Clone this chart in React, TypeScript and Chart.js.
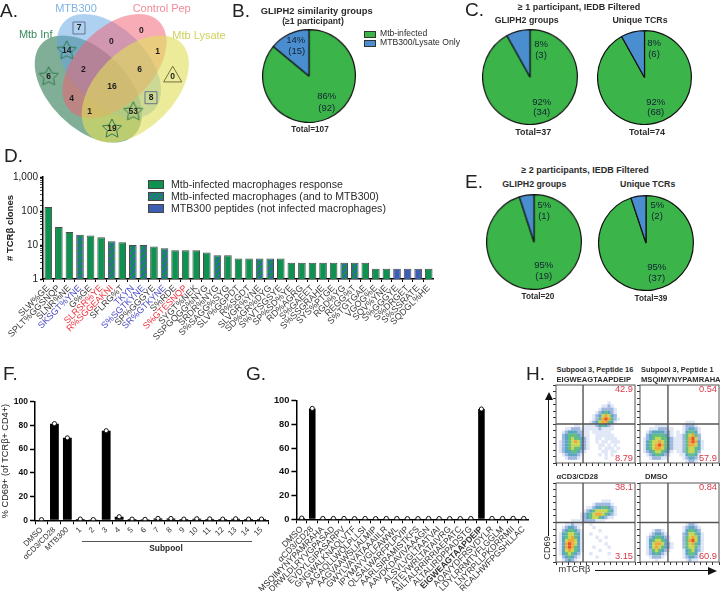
import React, { useEffect, useRef } from "react";
import { Chart, registerables } from "chart.js";

Chart.register(...registerables);

// ---------- data ----------
const vennSets = ["Mtb Inf", "MTB300", "Control Pep", "Mtb Lysate"];
const vennCounts = [7, 14, 0, 0, 1, 6, 2, 6, 0, 16, 8, 4, 1, 53, 19];
const vennMarks = ["rect", "star", "", "", "", "star", "", "", "triangle", "", "rect", "", "", "star", "star"];

const pieLabels = ["Mtb-infected", "MTB300/Lysate Only"];
const pieB = [92, 15];
const pieC1 = [34, 3];
const pieC2 = [68, 6];
const pieE1 = [19, 1];
const pieE2 = [37, 2];

const gliphLabels = [
  "SLW%GE", "SPLT%GGSNQP", "SLNR%NE", "SKSGT%YNE", "G%GE", "SLRSR%YE", "R%SGGEAKNI", "SFLRG%T", "TKYN", "S%SGTKYNE",
  "SP%GGGYE", "SR%GTKYNE", "S%RDE", "S%GTESNQP", "SYGT%NEK", "SSPGQGG%NYG", "SRDR%NYG", "S%SAGG%SYG", "SLV%GGPDT",
  "R%SGDT", "SLVGR%YNE", "SD%GR%DYG", "S%VTSGSYE", "SP%SD%YE", "RD%AGRG", "S%GAEET", "S%SSGRAHE", "SYS%PTGE", "RGD%YG",
  "REGG%T", "S%TGTGAE", "VGOG%E", "SQV%YNE", "S%GGGYE", "S%DRGET", "S%SSRATE", "SQDGL%HE",
];
const gliphClones = [
  131, 34, 24, 20, 19, 17, 13, 12, 10, 10, 9, 8, 7, 7, 7, 6, 5, 5, 4,
  4, 4, 4, 4, 3, 3, 3, 3, 3, 3, 3, 3, 2, 2, 2, 2, 2, 2,
];
// g = infected only, h = infected and MTB300, b = MTB300 only
const gliphKindList = [
  "g", "g", "g", "h", "g", "g", "h", "g", "h", "h", "g", "h", "g", "g", "g", "g", "h", "g", "g",
  "g", "h", "h", "g", "g", "g", "g", "g", "g", "h", "h", "g", "g", "g", "b", "b", "b", "g",
];
const gliphLabelInk = [
  "k", "k", "k", "b", "k", "r", "r", "k", "b", "b", "k", "b", "k", "r", "k", "k", "k", "k", "k",
  "k", "k", "k", "k", "k", "k", "k", "k", "k", "k", "k", "k", "k", "k", "k", "k", "k", "k",
];

const subpoolLabels = ["DMSO", "αCD3/CD28", "MTB300", "1", "2", "3", "4", "5", "6", "7", "8", "9", "10", "11", "12", "13", "14", "15"];
const subpoolValues = [0.5, 81.5, 69.5, 1, 0.6, 75.5, 3, 1, 0.8, 1.6, 1.5, 1, 1.3, 1.2, 1, 1.3, 1, 1];

const peptideLabels = [
  "DMSO", "αCD3/CD28", "MSQIMYNYPAMRAHA", "DRWLDLRYVGPASAD", "EVDYLGIPASARPV", "GNGWALKNAQLVTF", "AAGAQLLWQLPLLSI",
  "AAGVAAWSLIALMIP", "GWYLVAYATAAAIILR", "IPYMAYVGLFAWWL", "QLSALWARFPLPVIP", "AARLSIRAMISTKFS", "AAVDKDAVIVAAAGN",
  "ALSVLVGLTAATVAI", "ATEYWRLTATAIVRG", "AILTALRRIRRIAEPATC", "ALTALIRDPPADSTG", "EIGWEAGTAAPDEIP", "AQAVYDFRSVDYLR",
  "LDYLRRMTVFLGGLM", "LNYRPLLPKDRRMII", "RCALHWFPGSHLLAC",
];
const peptideValues = [1, 93.5, 0.7, 0.7, 0.7, 0.6, 0.7, 0.6, 0.7, 0.7, 0.6, 0.6, 0.7, 0.6, 0.6, 0.6, 0.7, 93, 0.7, 0.7, 0.8, 0.7];

const flowTop = [
  "", "", "", "", "",
  "00000000000000000100000000",
  "00000000000000011210000000",
  "00000000000000122221000000",
  "00000000000001234321000000",
  "00000000000012356532000000",
  "00000000000012467642100000",
  "00000000000123566431000000",
  "00000011011112343210000000",
  "00011222111111211110000000",
  "00123332211011111100000000",
  "00234443211001111110000000",
  "00234544321001101111000000",
  "01234565321001011011100000",
  "01234555321000110101000000",
  "01234544321000101110100000",
  "01233443210000011011000000",
  "00123332100000101010000000",
  "00012221000000001000000000",
  "",
];
const flowPeptide1 = [
  "", "", "", "", "", "", "", "", "", "", "",
  "00000000000000011100000000",
  "00000111100000122210000000",
  "00011122211000123321000000",
  "00123333221010134431000000",
  "00234444321011245642000000",
  "01234554432111246752000000",
  "01345565432111246763100000",
  "01345676432111246653100000",
  "01345665432111245543100000",
  "01234554321011245542000000",
  "00123443210001134431000000",
  "00012221100000123321000000",
  "00000000000000012210000000",
];
const flowCd3 = [
  "", "", "", "", "",
  "00000000000000011100000000",
  "00000000000012222210000000",
  "00000000001123344321000000",
  "00000000012345555431000000",
  "00000000123456654321000000",
  "00000000123455432110000000",
  "00000111122221110000000000",
  "00011211100100000000000000",
  "00123321000010000000000000",
  "00234432100000100000000000",
  "01345543100100000000000000",
  "01345643100001001000000000",
  "01356653100000100000000000",
  "01367653100000001000000000",
  "01367643100010000100000000",
  "01356543100000100000000000",
  "01345432000100000100000000",
  "00234321000001000000000000",
  "00123210000000000000000000",
];
const flowDmso = [
  "", "", "", "", "", "", "", "", "", "", "", "",
  "00000000000000012210000000",
  "00000000000000123321000000",
  "00001221000000134432000000",
  "00012332100000235543100000",
  "00123443210000245653100000",
  "00134554310000246753100000",
  "00135665321000245643100000",
  "00135654321000245542100000",
  "00124543210000134532100000",
  "00123432100000134431000000",
  "00012221000000123321000000",
  "00000100000000012110000000",
];
const flowGateTop = [8.9, 12];
const flowGateP1 = [9.2, 12];
const flowGateCd3 = [8.9, 12];
const flowGateDmso = [9.2, 12];

// ---------- styles ----------
const FONT = "'Liberation Sans', Arial, sans-serif";
const GREEN = "#0f9250";
const BLUE = "#3d5fb3";
const PIE_GREEN = "#3bb54a";
const PIE_BLUE = "#4b8ed0";
const INK = "#2b2b2b";
const RED_TEXT = "#d8394a";
const flowColors = ["", "#dfe6f5", "#9fb6e0", "#5aa6c0", "#62bd82", "#c8d650", "#f0a63a", "#e8502a"];

const pinW = (w: number) => (s: any) => {
  s.width = w;
  s.paddingLeft = s.paddingRight = s.paddingTop = s.paddingBottom = 0;
};
const pinH = (h: number) => (s: any) => {
  s.height = h;
  s.paddingLeft = s.paddingRight = s.paddingTop = s.paddingBottom = 0;
};

function hatch(): any {
  const c = document.createElement("canvas");
  c.width = 6;
  c.height = 6;
  const g = c.getContext("2d")!;
  g.fillStyle = GREEN;
  g.fillRect(0, 0, 6, 6);
  g.strokeStyle = BLUE;
  g.lineWidth = 1.7;
  g.beginPath();
  for (let i = -6; i <= 12; i += 6) {
    g.moveTo(i, 6);
    g.lineTo(i + 6, 0);
  }
  g.stroke();
  return g.createPattern(c, "repeat");
}

function starImage(size: number) {
  const c = document.createElement("canvas");
  c.width = c.height = size;
  const g = c.getContext("2d")!;
  const m = size / 2;
  g.beginPath();
  for (let i = 0; i < 10; i++) {
    const r = i % 2 ? m * 0.45 : m - 1;
    const a = -Math.PI / 2 + (i * Math.PI) / 5;
    const px = m + r * Math.cos(a);
    const py = m + r * Math.sin(a);
    if (i) g.lineTo(px, py);
    else g.moveTo(px, py);
  }
  g.closePath();
  g.strokeStyle = "#2f7a4c";
  g.lineWidth = 1;
  g.stroke();
  return c;
}

// ---------- layouts ----------
const spots = [
  [79, 28], [66.7, 50.7], [111.3, 41.7], [141.3, 31], [157.7, 52], [48.7, 76.7], [83.3, 69.3], [139.7, 69.3],
  [172.7, 76.7], [112, 87], [151, 97.7], [71.7, 98.3], [89.7, 111.7], [133.3, 111.7], [112, 129],
];
const ellipses = [
  { cx: 88.3, cy: 89, a: 65, b: 39, rot: 45, fill: "rgba(52,125,85,0.62)" },
  { cx: 109, cy: 66, a: 63, b: 38, rot: 45, fill: "rgba(100,165,228,0.52)" },
  { cx: 114.5, cy: 66, a: 63, b: 38, rot: -45, fill: "rgba(242,95,115,0.52)" },
  { cx: 135.3, cy: 89, a: 65, b: 39, rot: -45, fill: "rgba(222,222,90,0.62)" },
];

const vennPlugin = {
  id: "vennShapes",
  beforeDatasetsDraw(chart: any) {
    const { ctx, scales } = chart;
    ctx.save();
    ellipses.forEach((e) => {
      ctx.beginPath();
      ctx.ellipse(scales.x.getPixelForValue(e.cx), scales.y.getPixelForValue(e.cy), e.a, e.b, (e.rot * Math.PI) / 180, 0, Math.PI * 2);
      ctx.fillStyle = e.fill;
      ctx.fill();
    });
    ctx.restore();
  },
  afterDatasetsDraw(chart: any) {
    const { ctx } = chart;
    const meta = chart.getDatasetMeta(0);
    ctx.save();
    ctx.font = `bold 8.5px ${FONT}`;
    ctx.fillStyle = "#1c1c1c";
    ctx.textAlign = "center";
    ctx.textBaseline = "middle";
    meta.data.forEach((p: any, i: number) => ctx.fillText(String(vennCounts[i]), p.x, p.y));
    ctx.restore();
  },
};

const framePlugin = {
  id: "panelFrame",
  afterDraw(chart: any) {
    const { ctx, chartArea: a } = chart;
    ctx.save();
    ctx.strokeStyle = "#555";
    ctx.lineWidth = 1;
    ctx.strokeRect(a.left, a.top, a.right - a.left, a.bottom - a.top);
    ctx.restore();
  },
};

function flowConfig(rows: string[], gate: number[]) {
  const pts: any[] = [];
  const cols: string[] = [];
  rows.forEach((r, y) => {
    for (let x = 0; x < r.length; x++) {
      const v = +r[x];
      if (v > 0) {
        pts.push({ x: x + 0.5, y: y + 0.5 });
        cols.push(flowColors[v]);
      }
    }
  });
  const gateLine = (data: any[]) => ({
    type: "line",
    data,
    borderColor: "#555",
    borderWidth: 1.4,
    pointRadius: 0,
    showLine: true,
  });
  return {
    type: "scatter",
    data: {
      datasets: [
        gateLine([{ x: gate[0], y: 0 }, { x: gate[0], y: 24 }]),
        gateLine([{ x: 0, y: gate[1] }, { x: 26, y: gate[1] }]),
        { data: pts, backgroundColor: cols, pointStyle: "rect", pointRadius: 2.4, pointBorderWidth: 0 },
      ],
    },
    plugins: [framePlugin],
    options: {
      animation: false,
      responsive: false,
      layout: { autoPadding: false, padding: { top: 1, right: 1, left: 0, bottom: 0 } },
      plugins: { legend: { display: false }, tooltip: { enabled: false } },
      scales: {
        x: {
          type: "linear", min: 0, max: 26,
          afterFit: pinH(4),
          border: { display: false },
          grid: { drawOnChartArea: false, tickLength: 3, tickColor: "#333" },
          ticks: { stepSize: 2, callback: () => "", padding: 0, font: { size: 1 } },
        },
        y: {
          type: "linear", min: 0, max: 24, reverse: true,
          afterFit: pinW(4),
          border: { display: false },
          grid: { drawOnChartArea: false, tickLength: 3, tickColor: "#333" },
          ticks: { stepSize: 2, callback: () => "", padding: 0, font: { size: 1 } },
        },
      },
    },
  };
}

function pieConfig(values: number[]) {
  return {
    type: "pie",
    data: {
      labels: pieLabels,
      datasets: [{ data: values, backgroundColor: [PIE_GREEN, PIE_BLUE], borderColor: "#111", borderWidth: 1.2 }],
    },
    options: {
      animation: false,
      responsive: false,
      plugins: { legend: { display: false }, tooltip: { enabled: false } },
    },
  };
}

function barAndDots(labels: string[], values: number[], barPct: number, left: number, bottom: number, top: number, right: number, tickSize: number, yTitle: string | undefined, labelFont: any, xFont: any) {
  return {
    type: "bar",
    data: {
      labels,
      datasets: [
        { type: "line", data: values, showLine: false, pointRadius: 2.1, pointBackgroundColor: "#fff", pointBorderColor: "#111", pointBorderWidth: 1 },
        { type: "bar", data: values, backgroundColor: "#000", barPercentage: barPct, categoryPercentage: 1 },
      ],
    },
    options: {
      animation: false,
      responsive: false,
      layout: { autoPadding: false, padding: { top, right, left: 0, bottom: 0 } },
      plugins: { legend: { display: false }, tooltip: { enabled: false } },
      scales: {
        x: {
          afterFit: pinH(bottom),
          border: { display: true, color: "#000", width: 1.5 },
          grid: { drawOnChartArea: false, tickLength: 4, tickColor: "#000", tickWidth: 1 },
          ticks: { minRotation: 45, maxRotation: 45, autoSkip: false, color: "#333", padding: 1, font: xFont },
        },
        y: {
          min: 0, max: 100,
          afterFit: pinW(left),
          border: { display: true, color: "#000", width: 1.5 },
          grid: { drawOnChartArea: false, tickLength: 5, tickColor: "#000", tickWidth: 1.5 },
          ticks: { stepSize: 20, color: "#111", padding: 2, font: { family: FONT, size: tickSize, weight: "bold" } },
          title: yTitle ? { display: true, text: yTitle, color: "#222", padding: 0, font: labelFont } : { display: false },
        },
      },
    },
  };
}

type Box = { key: string; x: number; y: number; w: number; h: number; make: () => any; blur?: number };

const boxes: Box[] = [
  {
    key: "venn", x: 0, y: 0, w: 240, h: 170,
    make: () => ({
      type: "scatter",
      data: {
        datasets: [
          {
            label: vennSets.join(" / "),
            data: spots.map((s) => ({ x: s[0], y: s[1] })),
            pointStyle: vennMarks.map((m) => (m === "star" ? starImage(22) : m === "rect" ? "rect" : m === "triangle" ? "triangle" : "circle")),
            pointRadius: vennMarks.map((m) => (m === "" ? 0 : m === "rect" ? 8.5 : m === "triangle" ? 10.5 : 11)),
            pointBackgroundColor: "rgba(0,0,0,0)",
            pointBorderColor: vennMarks.map((m) => (m === "rect" ? "#66758c" : "#75703f")),
            pointBorderWidth: 1,
          },
        ],
      },
      plugins: [vennPlugin],
      options: {
        animation: false,
        responsive: false,
        layout: { autoPadding: false },
        plugins: { legend: { display: false }, tooltip: { enabled: false } },
        scales: {
          x: { type: "linear", min: 0, max: 240, display: false },
          y: { type: "linear", min: 0, max: 170, reverse: true, display: false },
        },
      },
    }),
  },
  { key: "pieB", x: 262.4, y: 29.1, w: 93.8, h: 93.8, make: () => pieConfig(pieB) },
  { key: "pieC1", x: 482.4, y: 29.1, w: 95.8, h: 95.8, make: () => pieConfig(pieC1) },
  { key: "pieC2", x: 596.5, y: 29.5, w: 95, h: 95, make: () => pieConfig(pieC2) },
  { key: "pieE1", x: 486.1, y: 194.1, w: 95.8, h: 95.8, make: () => pieConfig(pieE1) },
  { key: "pieE2", x: 597.8, y: 195.1, w: 96.4, h: 96.4, make: () => pieConfig(pieE2) },
  {
    key: "clones", x: 0, y: 165, w: 434, h: 185,
    make: () => {
      const pat = hatch();
      const fill = (k: string) => (k === "h" ? pat : k === "b" ? BLUE : GREEN);
      return {
        type: "bar",
        data: {
          labels: gliphLabels,
          datasets: [
            {
              data: gliphClones,
              backgroundColor: gliphKindList.map(fill),
              borderColor: "#4a4a4a",
              borderWidth: 1,
              barPercentage: 0.72,
              categoryPercentage: 1,
            },
          ],
        },
        options: {
          animation: false,
          responsive: false,
          layout: { autoPadding: false, padding: { top: 12 } },
          plugins: { legend: { display: false }, tooltip: { enabled: false } },
          scales: {
            x: {
              afterFit: pinH(71),
              border: { display: true, color: "#000", width: 1.5 },
              grid: { drawOnChartArea: false, tickLength: 3, tickColor: "#000" },
              ticks: {
                minRotation: 45, maxRotation: 45, autoSkip: false, padding: 1,
                font: { family: FONT, size: 9 },
                color: (c: any) => {
                  const k = gliphLabelInk[c.index];
                  return k === "b" ? "#4646c4" : k === "r" ? "#f0303c" : "#3a3a3a";
                },
              },
            },
            y: {
              type: "logarithmic", min: 1, max: 1000,
              afterFit: pinW(43),
              border: { display: true, color: "#000", width: 1.5 },
              grid: { drawOnChartArea: false, tickLength: 3, tickColor: "#000", tickWidth: (c: any) => ([1, 10, 100, 1000].includes(c.tick?.value) ? 1.5 : 0.7) },
              ticks: {
                autoSkip: false, padding: 2, color: "#222",
                font: { family: FONT, size: 10 },
                callback: (v: any) => ([1, 10, 100, 1000].includes(Number(v)) ? Number(v).toLocaleString("en-US") : ""),
              },
              title: { display: true, text: "# TCRβ clones", color: "#222", padding: { top: 5, bottom: 0 }, font: { family: FONT, size: 9.5, weight: "bold" } },
            },
          },
        },
      };
    },
  },
  {
    key: "subpool", x: 0, y: 390, w: 270, h: 170,
    make: () =>
      barAndDots(subpoolLabels, subpoolValues, 0.68, 35, 39.7, 11.7, 2, 8.5, "% CD69+ (of TCRβ+ CD4+)", { family: FONT, size: 9.2 }, { family: FONT, size: 7.8 }),
  },
  {
    key: "peptide", x: 230, y: 390, w: 299, h: 201,
    make: () =>
      barAndDots(peptideLabels, peptideValues, 0.62, 66.4, 71.7, 10.7, 0, 9.3, undefined, undefined, (c: any) => ({ family: FONT, size: 8.6, weight: c.index === 17 ? "bold" : "normal" })),
  },
  { key: "f1", x: 552, y: 384, w: 84, h: 83, blur: 0.7, make: () => flowConfig(flowTop, flowGateTop) },
  { key: "f2", x: 636, y: 384, w: 84, h: 83, blur: 0.7, make: () => flowConfig(flowPeptide1, flowGateP1) },
  { key: "f3", x: 552, y: 482, w: 84, h: 84, blur: 0.7, make: () => flowConfig(flowCd3, flowGateCd3) },
  { key: "f4", x: 636, y: 482, w: 84, h: 84, blur: 0.7, make: () => flowConfig(flowDmso, flowGateDmso) },
];

type Note = [string, number, number, number, string?, string?, string?];
// text, x, y (centre), size, weight, colour, anchor (l = left edge)
const notes: Note[] = [
  ["A.", 0, 10, 19, "400", "#222", "l"],
  ["B.", 232, 10, 19, "400", "#222", "l"],
  ["C.", 465, 9, 19, "400", "#222", "l"],
  ["D.", 4, 155, 19, "400", "#222", "l"],
  ["E.", 465, 181, 19, "400", "#222", "l"],
  ["F.", 3, 373, 19, "400", "#222", "l"],
  ["G.", 246, 373, 19, "400", "#222", "l"],
  ["H.", 526, 373, 19, "400", "#222", "l"],
  ["MTB300", 76, 7.5, 11, "400", "#7db3e4"],
  ["Control Pep", 161.7, 7.5, 11, "400", "#f38b98"],
  ["Mtb Inf", 35.7, 33.5, 11, "400", "#3a8a5c"],
  ["Mtb Lysate", 199, 35, 11, "400", "#d0d05c"],
  ["GLIPH2 similarity groups", 316.7, 10.5, 9.4, "700", INK],
  ["(≥1 participant)", 313, 21, 8.6, "700", INK],
  ["Mtb-infected", 380, 33, 8.6, "400", INK, "l"],
  ["MTB300/Lysate Only", 380, 42, 8.6, "400", INK, "l"],
  ["14%", 295.7, 40, 9.5, "400", "#123"],
  ["(15)", 296.7, 50.7, 9.5, "400", "#123"],
  ["86%", 326.7, 95.7, 9.5, "400", "#123"],
  ["(92)", 326.7, 107.7, 9.5, "400", "#123"],
  ["Total=107", 310, 130, 8.2, "700", INK],
  ["≥ 1 participant, IEDB Filtered", 579, 7, 9, "700", INK],
  ["GLIPH2 groups", 526.7, 20, 8.8, "700", INK],
  ["Unique TCRs", 640, 20, 8.8, "700", INK],
  ["8%", 541, 44, 9.5, "400", "#123"],
  ["(3)", 541, 55, 9.5, "400", "#123"],
  ["92%", 541.7, 101.7, 9.5, "400", "#123"],
  ["(34)", 541.7, 112.3, 9.5, "400", "#123"],
  ["Total=37", 533.3, 132.3, 9, "700", INK],
  ["8%", 654, 43, 9.5, "400", "#123"],
  ["(6)", 654, 54, 9.5, "400", "#123"],
  ["92%", 655.7, 101.7, 9.5, "400", "#123"],
  ["(68)", 655.7, 112, 9.5, "400", "#123"],
  ["Total=74", 647, 132.3, 9, "700", INK],
  ["≥ 2 participants, IEDB Filtered", 585, 169.5, 9, "700", INK],
  ["GLIPH2 groups", 534.3, 184, 8.8, "700", INK],
  ["Unique TCRs", 647.7, 184, 8.8, "700", INK],
  ["5%", 544.3, 205, 9.5, "400", "#123"],
  ["(1)", 544, 215.7, 9.5, "400", "#123"],
  ["95%", 543.7, 264.7, 9.5, "400", "#123"],
  ["(19)", 543.7, 275.7, 9.5, "400", "#123"],
  ["Total=20", 538, 297.3, 8.2, "700", INK],
  ["5%", 657.3, 205, 9.5, "400", "#123"],
  ["(2)", 657, 216, 9.5, "400", "#123"],
  ["95%", 656.7, 267, 9.5, "400", "#123"],
  ["(37)", 656.7, 277.7, 9.5, "400", "#123"],
  ["Total=39", 651, 299, 8.2, "700", INK],
  ["Mtb-infected macrophages response", 171, 184, 10.6, "400", INK, "l"],
  ["Mtb-infected macrophages (and to MTB300)", 171, 195.5, 10.6, "400", INK, "l"],
  ["MTB300 peptides (not infected macrophages)", 171, 207.5, 10.6, "400", INK, "l"],
  ["Subpool", 166, 548, 8.4, "700", INK],
  ["Subpool 3, Peptide 16", 556.5, 370, 7.4, "700", INK, "l"],
  ["EIGWEAGTAAPDEIP", 556.5, 379.7, 7.6, "700", INK, "l"],
  ["Subpool 3, Peptide 1", 641, 370, 7.4, "700", INK, "l"],
  ["MSQIMYNYPAMRAHA", 641, 379.7, 7.6, "700", INK, "l"],
  ["αCD3/CD28", 556.5, 476.7, 7.6, "700", INK, "l"],
  ["DMSO", 645, 476.7, 7.6, "700", INK, "l"],
  ["42.9", 624, 389.5, 9.3, "400", RED_TEXT],
  ["8.79", 624, 459, 9.3, "400", RED_TEXT],
  ["0.54", 708, 389.5, 9.3, "400", RED_TEXT],
  ["57.9", 708, 459, 9.3, "400", RED_TEXT],
  ["38.1", 624, 488, 9.3, "400", RED_TEXT],
  ["3.15", 624, 557, 9.3, "400", RED_TEXT],
  ["0.84", 708, 488, 9.3, "400", RED_TEXT],
  ["60.9", 708, 557, 9.3, "400", RED_TEXT],
  ["mTCRβ", 574.5, 570, 9.2, "400", INK],
];

const legendSwatches = [
  { top: 180, background: GREEN },
  { top: 192, background: `repeating-linear-gradient(135deg, ${GREEN} 0 2px, ${BLUE} 2px 3.5px)` },
  { top: 204, background: BLUE },
];

function FlatChart({ box }: { box: Box }) {
  const ref = useRef<HTMLCanvasElement>(null);
  useEffect(() => {
    const chart = new Chart(ref.current as any, box.make());
    return () => chart.destroy();
  }, [box]);
  return (
    <canvas
      ref={ref}
      width={box.w}
      height={box.h}
      style={{ position: "absolute", left: box.x, top: box.y, width: box.w, height: box.h, filter: box.blur ? `blur(${box.blur}px)` : undefined }}
    />
  );
}

export default function App() {
  return (
    <div style={{ position: "absolute", left: 0, top: 0, width: 720, height: 591, background: "#fff", overflow: "hidden", fontFamily: FONT }}>
      {boxes.map((b) => (
        <FlatChart key={b.key} box={b} />
      ))}
      {notes.map(([t, x, y, s, w, c, a], i) => (
        <div
          key={i}
          style={{
            position: "absolute", left: x, top: y, fontSize: s, fontWeight: w as any, color: c, lineHeight: 1, whiteSpace: "nowrap",
            transform: a === "l" ? "translateY(-50%)" : "translate(-50%,-50%)",
          }}
        >
          {t}
        </div>
      ))}
      {legendSwatches.map((l, i) => (
        <div key={i} style={{ position: "absolute", left: 148, top: l.top, width: 14, height: 7, background: l.background, border: "1px solid #444" }} />
      ))}
      <div style={{ position: "absolute", left: 364, top: 31, width: 10, height: 5, background: PIE_GREEN, border: "1px solid #333" }} />
      <div style={{ position: "absolute", left: 364, top: 39.5, width: 10, height: 5, background: PIE_BLUE, border: "1px solid #333" }} />
      <div style={{ position: "absolute", left: 82, top: 541, width: 170, height: 1, background: "#555" }} />
      <div
        style={{ position: "absolute", left: 548, top: 548, fontSize: 9.2, color: INK, lineHeight: 1, whiteSpace: "nowrap", transform: "translate(-50%,-50%) rotate(-90deg)" }}
      >
        CD69
      </div>
      <div style={{ position: "absolute", left: 548.3, top: 398, width: 1, height: 138, background: "#111" }} />
      <div style={{ position: "absolute", left: 544.8, top: 392, width: 0, height: 0, borderLeft: "4px solid transparent", borderRight: "4px solid transparent", borderBottom: "8px solid #111" }} />
      <div style={{ position: "absolute", left: 595, top: 570, width: 115, height: 1, background: "#111" }} />
      <div style={{ position: "absolute", left: 708, top: 566.5, width: 0, height: 0, borderTop: "4px solid transparent", borderBottom: "4px solid transparent", borderLeft: "9px solid #111" }} />
    </div>
  );
}
